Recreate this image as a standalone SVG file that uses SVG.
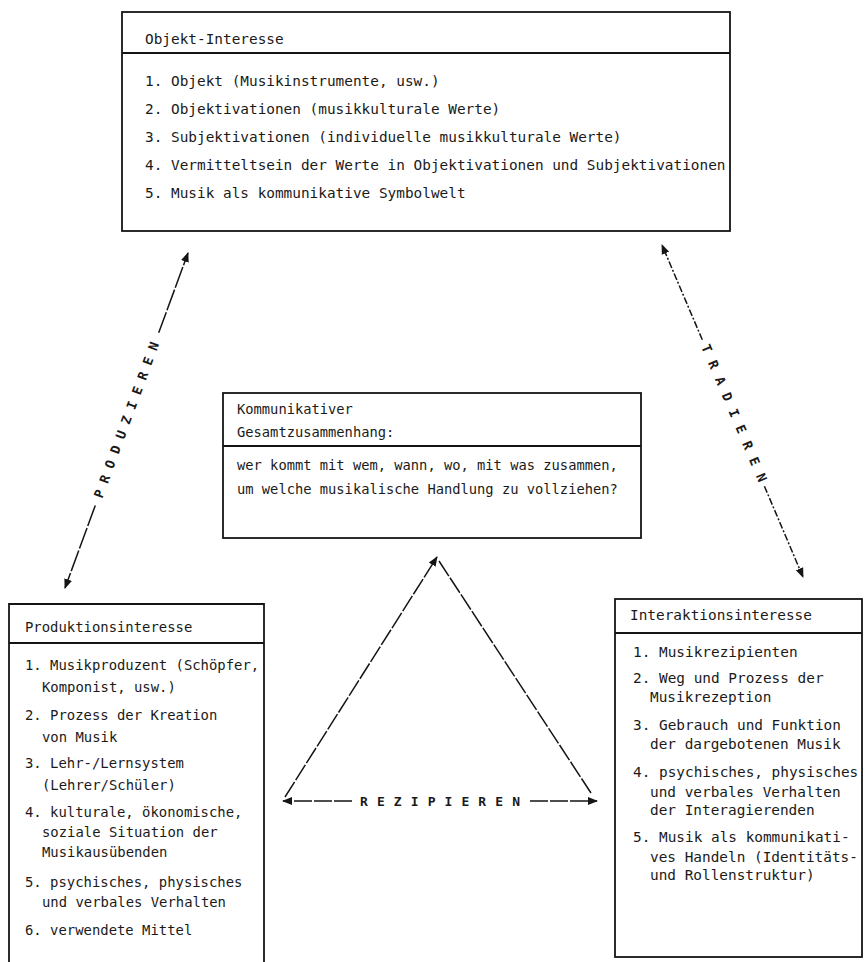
<svg xmlns="http://www.w3.org/2000/svg" width="866" height="962" viewBox="0 0 866 962">
<defs>
<style>
.box{fill:#fff;stroke:#151515;stroke-width:1.8}
.div{stroke:#151515;stroke-width:1.8}
.t{font-family:"DejaVu Sans Mono","Liberation Mono",monospace;fill:#1a1a1a}
.top{font-size:14.4px}
.mid{font-size:13.75px}
.lft{font-size:13.9px}
.rgt{font-size:14.4px}
.con{fill:none;stroke:#151515;stroke-width:1.5}
.lbl{font-family:"DejaVu Sans Mono","Liberation Mono",monospace;font-size:13px;font-weight:bold;fill:#1a1a1a}
</style>
<marker id="ah" viewBox="0 0 10 10" refX="9" refY="5" markerWidth="10" markerHeight="10" markerUnits="userSpaceOnUse" orient="auto-start-reverse"><path d="M0,1 L10,5 L0,9 z" fill="#151515"/></marker>
</defs>
<rect width="866" height="962" fill="#fff"/>

<g id="objekt-interesse">
<rect class="box" x="122" y="12" width="608" height="219"/>
<line class="div" x1="122" y1="53" x2="730" y2="53"/>
<text class="t top" x="145" y="44">Objekt-Interesse</text>
<text class="t top" x="145" y="86">1. Objekt (Musikinstrumente, usw.)</text>
<text class="t top" x="145" y="114">2. Objektivationen (musikkulturale Werte)</text>
<text class="t top" x="145" y="142">3. Subjektivationen (individuelle musikkulturale Werte)</text>
<text class="t top" x="145" y="170">4. Vermitteltsein der Werte in Objektivationen und Subjektivationen</text>
<text class="t top" x="145" y="198">5. Musik als kommunikative Symbolwelt</text>
</g>

<g id="gesamtzusammenhang">
<rect class="box" x="223" y="393" width="418" height="145"/>
<line class="div" x1="223" y1="446" x2="641" y2="446"/>
<text class="t mid" x="237" y="414">Kommunikativer</text>
<text class="t mid" x="237" y="437">Gesamtzusammenhang:</text>
<text class="t mid" x="237" y="470">wer kommt mit wem, wann, wo, mit was zusammen,</text>
<text class="t mid" x="237" y="494">um welche musikalische Handlung zu vollziehen?</text>
</g>

<g id="produktionsinteresse">
<path class="box" d="M9,970 L9,604 L264,604 L264,970"/>
<line class="div" x1="9" y1="643" x2="264" y2="643"/>
<text class="t lft" x="25" y="632">Produktionsinteresse</text>
<text class="t lft" x="25" y="670">1. Musikproduzent (Schöpfer,</text>
<text class="t lft" x="42" y="692">Komponist, usw.)</text>
<text class="t lft" x="25" y="720">2. Prozess der Kreation</text>
<text class="t lft" x="42" y="742">von Musik</text>
<text class="t lft" x="25" y="768">3. Lehr-/Lernsystem</text>
<text class="t lft" x="42" y="790">(Lehrer/Schüler)</text>
<text class="t lft" x="25" y="817">4. kulturale, ökonomische,</text>
<text class="t lft" x="42" y="837">soziale Situation der</text>
<text class="t lft" x="42" y="857">Musikausübenden</text>
<text class="t lft" x="25" y="887">5. psychisches, physisches</text>
<text class="t lft" x="42" y="907">und verbales Verhalten</text>
<text class="t lft" x="25" y="935">6. verwendete Mittel</text>
</g>

<g id="interaktionsinteresse">
<rect class="box" x="615" y="599" width="247" height="358"/>
<line class="div" x1="615" y1="633" x2="862" y2="633"/>
<text class="t rgt" x="630" y="620">Interaktionsinteresse</text>
<text class="t rgt" x="633" y="657">1. Musikrezipienten</text>
<text class="t rgt" x="633" y="683">2. Weg und Prozess der</text>
<text class="t rgt" x="650" y="702">Musikrezeption</text>
<text class="t rgt" x="633" y="730">3. Gebrauch und Funktion</text>
<text class="t rgt" x="650" y="749">der dargebotenen Musik</text>
<text class="t rgt" x="633" y="777">4. psychisches, physisches</text>
<text class="t rgt" x="650" y="797">und verbales Verhalten</text>
<text class="t rgt" x="650" y="815">der Interagierenden</text>
<text class="t rgt" x="633" y="842">5. Musik als kommunikati-</text>
<text class="t rgt" x="650" y="862">ves Handeln (Identitäts-</text>
<text class="t rgt" x="650" y="880">und Rollenstruktur)</text>
</g>

<g id="connectors">
<!-- PRODUZIEREN -->
<line class="con" x1="95.3" y1="505.4" x2="65" y2="588" marker-end="url(#ah)" stroke-dasharray="22 2"/>
<line class="con" x1="158.7" y1="332.8" x2="188" y2="253" marker-end="url(#ah)" stroke-dasharray="22 2"/>
<text class="lbl" x="0" y="0" text-anchor="middle" dominant-baseline="central" textLength="165" lengthAdjust="spacing" transform="translate(126.5,420) rotate(-69.8)">PRODUZIEREN</text>
<!-- TRADIEREN -->
<line class="con" x1="702.3" y1="339.8" x2="662" y2="245" marker-end="url(#ah)" stroke-dasharray="7 2 2 2"/>
<line class="con" x1="764.4" y1="486.2" x2="803" y2="577" marker-end="url(#ah)" stroke-dasharray="7 2 2 2"/>
<text class="lbl" x="0" y="0" text-anchor="middle" dominant-baseline="central" textLength="148" lengthAdjust="spacing" transform="translate(734,413) rotate(67)">TRADIEREN</text>
<!-- Triangle / REZIPIEREN -->
<line class="con" x1="285" y1="797" x2="437" y2="557" marker-end="url(#ah)" stroke-dasharray="18 2"/>
<line class="con" x1="439" y1="561" x2="591" y2="793" stroke-dasharray="18 2"/>
<line class="con" x1="352" y1="801" x2="283" y2="801" marker-end="url(#ah)" stroke-dasharray="18 2"/>
<line class="con" x1="530" y1="801" x2="597" y2="801" marker-end="url(#ah)" stroke-dasharray="18 2"/>
<text class="lbl" x="440" y="801" text-anchor="middle" dominant-baseline="central" textLength="160" lengthAdjust="spacing">REZIPIEREN</text>
</g>
</svg>
